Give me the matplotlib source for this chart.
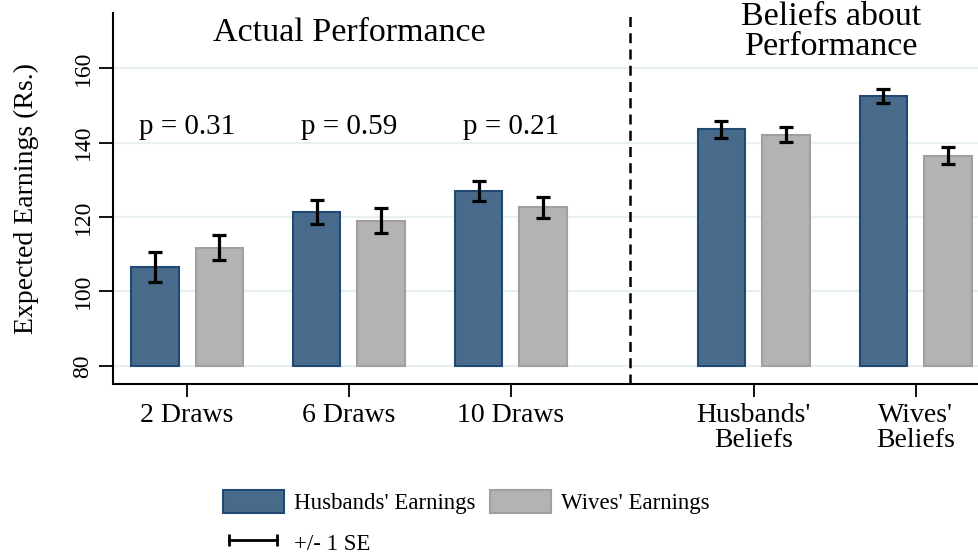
import matplotlib
matplotlib.use("Agg")
import matplotlib.pyplot as plt
from matplotlib.patches import Patch
from matplotlib.lines import Line2D
import numpy as np

plt.rcParams['font.family'] = ['Liberation Serif', 'DejaVu Serif']

categories = ["2 Draws", "6 Draws", "10 Draws", "Husbands'\nBeliefs", "Wives'\nBeliefs"]
husbands = [106.6, 121.3, 127.0, 143.6, 152.5]
husbands_se = [4.0, 3.2, 2.6, 2.3, 2.0]
wives = [111.8, 119.0, 122.6, 142.1, 136.5]
wives_se = [3.3, 3.3, 2.8, 2.0, 2.2]
pvalues = ["p = 0.31", "p = 0.59", "p = 0.21"]
yticks = [80, 100, 120, 140, 160]

x = np.array([0, 1, 2, 3.5, 4.5])
base = 80
off = 0.2
w = 0.295

fig = plt.figure(figsize=(9.79, 5.57), dpi=100)
ax = fig.add_axes([113/979, 1-384/557, 1-113/979, (384-13)/557])

hcol, hedge = '#486a8b', '#1f4a73'
wcol, wedge = '#b3b3b3', '#a0a0a0'

for v in yticks:
    ax.axhline(v, color='#e9f0f2', lw=1.6, zorder=0)

ax.bar(x-off, np.array(husbands)-base, w, bottom=base, color=hcol, edgecolor=hedge, lw=1.5, zorder=2)
ax.bar(x+off, np.array(wives)-base, w, bottom=base, color=wcol, edgecolor=wedge, lw=1.5, zorder=2)
ax.errorbar(x-off, husbands, yerr=husbands_se, fmt='none', ecolor='black', elinewidth=2.3, capsize=5.2, capthick=2.3, zorder=3)
ax.errorbar(x+off, wives, yerr=wives_se, fmt='none', ecolor='black', elinewidth=2.3, capsize=5.2, capthick=2.3, zorder=3)

ax.axvline(2.735, color='black', ls=(0, (4, 2.5)), lw=1.8)

ax.set_xlim(-0.457, 4.89)
ax.set_ylim(75.15, 174.8)
ax.set_yticks(yticks)
ax.set_yticklabels([str(v) for v in yticks], rotation=90, va='center', fontsize=17)
ax.set_xticks(x)
ax.set_xticklabels(categories, fontsize=20, linespacing=1.0)
ax.tick_params(axis='y', length=10, width=1.3, pad=4)
ax.tick_params(axis='x', length=9, width=1.3, pad=5)
ax.set_ylabel("Expected Earnings (Rs.)", fontsize=20, labelpad=24)

for s in ['top', 'right']:
    ax.spines[s].set_visible(False)
for s in ['left', 'bottom']:
    ax.spines[s].set_linewidth(1.5)

for i, p in enumerate(pvalues):
    ax.text(x[i], 144.2, p, ha='center', va='center', fontsize=21)

ax.text(1, 169.4, "Actual Performance", ha='center', va='center', fontsize=24.5)
ax.text(3.98, 169.7, "Beliefs about\nPerformance", ha='center', va='center', fontsize=24.5, linespacing=1.0)

handles = [Patch(facecolor=hcol, edgecolor=hedge, lw=1.5),
           Line2D([0], [0], color='black', lw=2, marker='|', markersize=9, markeredgewidth=2),
           Patch(facecolor=wcol, edgecolor=wedge, lw=1.5)]
labels = ["Husbands' Earnings", "+/- 1 SE", "Wives' Earnings"]
fig.legend(handles, labels, ncol=2, loc='upper left', bbox_to_anchor=(202/979, 1-469/557),
           frameon=False, fontsize=16.5, numpoints=2, handlelength=2.67, handleheight=1.22,
           handletextpad=0.44, columnspacing=0.62, labelspacing=0.7)

fig.savefig("out.png", dpi=100)
